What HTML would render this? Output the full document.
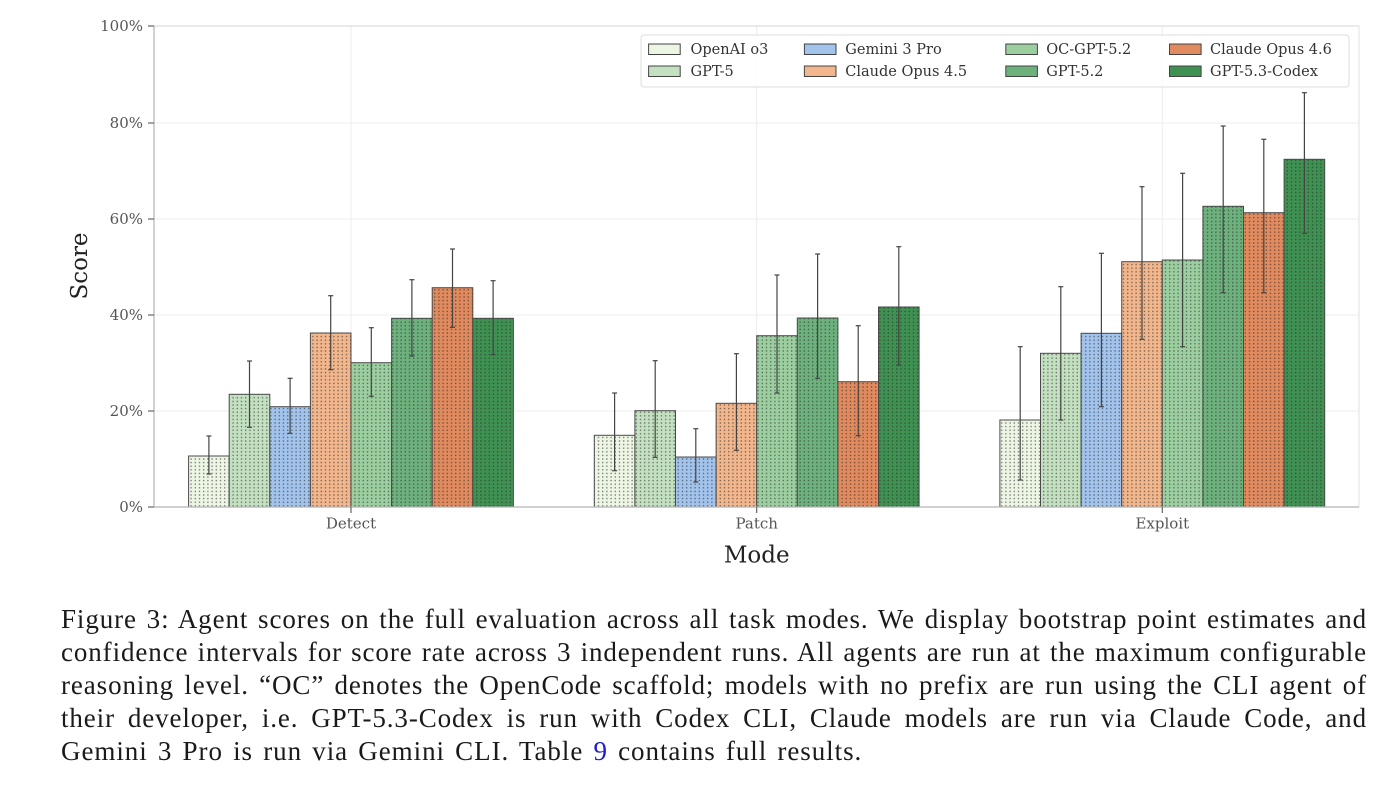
<!DOCTYPE html>
<html>
<head>
<meta charset="utf-8">
<style>
  html,body{margin:0;padding:0;background:#fff;}
  body{width:1400px;height:785px;position:relative;overflow:hidden;}
  svg{position:absolute;left:0;top:0;}
  .cap{position:absolute;left:61px;width:1306px;font-family:"Liberation Serif",serif;font-size:27px;line-height:33px;color:#1a1a1a;white-space:nowrap;letter-spacing:0.9px;}
  .j{text-align:justify;text-align-last:justify;white-space:normal;}
</style>
</head>
<body>
<svg width="1400" height="785" viewBox="0 0 1400 785" xmlns="http://www.w3.org/2000/svg">
  <defs>
    <pattern id="dots" patternUnits="userSpaceOnUse" width="4.2" height="3.6">
      <circle cx="2.1" cy="1.8" r="0.8" fill="rgba(40,40,40,0.6)"/>
    </pattern>
  </defs>
  <g stroke="#ececec" stroke-width="1">
    <line x1="154" y1="411" x2="1359" y2="411"/>
    <line x1="154" y1="315" x2="1359" y2="315"/>
    <line x1="154" y1="219" x2="1359" y2="219"/>
    <line x1="154" y1="123" x2="1359" y2="123"/>
    <line x1="351" y1="26" x2="351" y2="507"/>
    <line x1="756.7" y1="26" x2="756.7" y2="507"/>
    <line x1="1162.3" y1="26" x2="1162.3" y2="507"/>
  </g>
  <line x1="154" y1="26" x2="1359" y2="26" stroke="#d6d6d6" stroke-width="1"/>
  <line x1="1359" y1="26" x2="1359" y2="507" stroke="#e0e0e0" stroke-width="1"/>
  <g id="bars"></g>
  <line x1="154" y1="26" x2="154" y2="507" stroke="#b5b5b5" stroke-width="1.2"/>
  <line x1="154" y1="507" x2="1359" y2="507" stroke="#b5b5b5" stroke-width="1.2"/>
  <g stroke="#666" stroke-width="1.2">
    <line x1="148" y1="507" x2="154" y2="507"/>
    <line x1="148" y1="411" x2="154" y2="411"/>
    <line x1="148" y1="315" x2="154" y2="315"/>
    <line x1="148" y1="219" x2="154" y2="219"/>
    <line x1="148" y1="123" x2="154" y2="123"/>
    <line x1="148" y1="26" x2="154" y2="26"/>
    <line x1="351" y1="507" x2="351" y2="513"/>
    <line x1="756.7" y1="507" x2="756.7" y2="513"/>
    <line x1="1162.3" y1="507" x2="1162.3" y2="513"/>
  </g>
  <g font-family="DejaVu Serif, serif" font-size="15" fill="#555" text-anchor="end">
    <text x="143" y="512">0%</text>
    <text x="143" y="416">20%</text>
    <text x="143" y="320">40%</text>
    <text x="143" y="224">60%</text>
    <text x="143" y="128">80%</text>
    <text x="143" y="31">100%</text>
  </g>
  <g font-family="DejaVu Serif, serif" font-size="15" fill="#555" text-anchor="middle">
    <text x="351" y="528.5">Detect</text>
    <text x="756.7" y="528.5">Patch</text>
    <text x="1162.3" y="528.5">Exploit</text>
  </g>
  <text x="756.7" y="562.5" font-family="DejaVu Serif, serif" font-size="23" fill="#222" text-anchor="middle">Mode</text>
  <text transform="translate(87,266) rotate(-90)" font-family="DejaVu Serif, serif" font-size="23" fill="#222" text-anchor="middle">Score</text>

  <rect x="641" y="35" width="708" height="52" rx="3" fill="#fff" fill-opacity="0.85" stroke="#dcdcdc" stroke-width="1"/>
  <g stroke="#444" stroke-width="1">
    <rect x="648.6" y="44" width="31.6" height="10.5" fill="#edf5e4"/>
    <rect x="648.6" y="66" width="31.6" height="10.5" fill="#c3e1c1"/>
    <rect x="804.4" y="44" width="31.6" height="10.5" fill="#a2c3ec"/>
    <rect x="804.4" y="66" width="31.6" height="10.5" fill="#f2b68c"/>
    <rect x="1005.8" y="44" width="31.6" height="10.5" fill="#9ccf9f"/>
    <rect x="1005.8" y="66" width="31.6" height="10.5" fill="#6db17d"/>
    <rect x="1169.5" y="44" width="31.6" height="10.5" fill="#e08a5e"/>
    <rect x="1169.5" y="66" width="31.6" height="10.5" fill="#3f9152"/>
  </g>
  <g font-family="DejaVu Serif, serif" font-size="14.5" fill="#333">
    <text x="690.5" y="54">OpenAI o3</text>
    <text x="690.5" y="76">GPT-5</text>
    <text x="845.3" y="54">Gemini 3 Pro</text>
    <text x="845.3" y="76">Claude Opus 4.5</text>
    <text x="1046.3" y="54">OC-GPT-5.2</text>
    <text x="1046.3" y="76">GPT-5.2</text>
    <text x="1210" y="54">Claude Opus 4.6</text>
    <text x="1210" y="76">GPT-5.3-Codex</text>
  </g>
</svg>

<div class="cap j" style="top:603px;">Figure 3: Agent scores on the full evaluation across all task modes. We display bootstrap point estimates and</div>
<div class="cap j" style="top:636px;">confidence intervals for score rate across 3 independent runs. All agents are run at the maximum configurable</div>
<div class="cap j" style="top:669px;">reasoning level. “OC” denotes the OpenCode scaffold; models with no prefix are run using the CLI agent of</div>
<div class="cap j" style="top:702px;">their developer, i.e. GPT-5.3-Codex is run with Codex CLI, Claude models are run via Claude Code, and</div>
<div class="cap" style="top:735px;letter-spacing:0.95px;word-spacing:2.5px;">Gemini 3 Pro is run via Gemini CLI. Table <span style="color:#1a1ad6">9</span> contains full results.</div>

<script>
(function(){
  var ns="http://www.w3.org/2000/svg";
  var g=document.getElementById("bars");
  var colors=["#edf5e4","#c3e1c1","#a2c3ec","#f2b68c","#9ccf9f","#6db17d","#e08a5e","#3f9152"];
  var centers=[351,756.7,1162.3];
  var w=40.6;
  var tops=[
    [456,394.3,406.7,333,362.7,318.3,287.7,318.3],
    [435.3,410.7,457,403.3,335.7,318,381.7,307],
    [420,353.3,333.3,261.7,260,206.3,212.7,159.3]
  ];
  var errs=[
    [[436,474],[361,427.3],[378.3,433.3],[295.7,369.7],[327.7,396.3],[279.7,356],[249,327.3],[280.7,354.7]],
    [[393,470.7],[360.7,457.3],[428.7,482],[353.7,450.3],[275,393],[254,378.3],[325.7,435.7],[246.7,365]],
    [[346.7,480],[286.7,420],[253.3,406.7],[186.7,339.3],[173.3,346.7],[126,292.7],[139.3,292.7],[92.7,233.3]]
  ];
  function el(t,a){var e=document.createElementNS(ns,t);for(var k in a)e.setAttribute(k,a[k]);g.appendChild(e);return e;}
  for(var gi=0;gi<3;gi++){
    for(var i=0;i<8;i++){
      var x=centers[gi]-4*w+i*w, y=tops[gi][i], h=507-y;
      el("rect",{x:x,y:y,width:w,height:h,fill:colors[i]});
      el("rect",{x:x,y:y,width:w,height:h,fill:"url(#dots)"});
      el("rect",{x:x,y:y,width:w,height:h,fill:"none",stroke:"#4a4a4a","stroke-width":"1"});
    }
  }
  for(var gi=0;gi<3;gi++){
    for(var i=0;i<8;i++){
      var cx=centers[gi]-4*w+i*w+w/2, e=errs[gi][i];
      el("line",{x1:cx,y1:e[0],x2:cx,y2:e[1],stroke:"#444","stroke-width":"1.2"});
      el("line",{x1:cx-2.5,y1:e[0],x2:cx+2.5,y2:e[0],stroke:"#444","stroke-width":"1.2"});
      el("line",{x1:cx-2.5,y1:e[1],x2:cx+2.5,y2:e[1],stroke:"#444","stroke-width":"1.2"});
    }
  }
})();
</script>
</body>
</html>
